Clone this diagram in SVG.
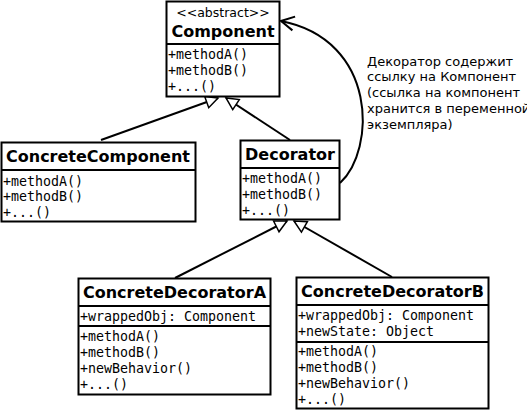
<svg xmlns="http://www.w3.org/2000/svg" width="527" height="410" viewBox="0 0 527 410">
<defs>
<style>
.box{fill:#fff;stroke:#000;stroke-width:2}
.sep{stroke:#000;stroke-width:2}
.title{font-family:"DejaVu Sans",sans-serif;font-weight:bold;font-size:16px;text-anchor:middle}
.mono{font-family:"DejaVu Sans Mono",monospace;font-size:13.3px}
.note{font-family:"DejaVu Sans",sans-serif;font-size:13px}
.stereo{font-family:"DejaVu Sans",sans-serif;font-size:12.5px;text-anchor:middle}
.conn{fill:none;stroke:#000;stroke-width:2}
</style>
<marker id="tri" markerUnits="userSpaceOnUse" markerWidth="14" markerHeight="14" refX="12" refY="6" orient="auto" overflow="visible">
<path d="M0,0 L12,6 L0,12 Z" fill="#fff" stroke="#000" stroke-width="1.5"/>
</marker>
<marker id="open" markerUnits="userSpaceOnUse" markerWidth="16" markerHeight="16" refX="13" refY="7" orient="auto" overflow="visible">
<path d="M0,0 L13,7 L0,14" fill="none" stroke="#000" stroke-width="2"/>
</marker>
</defs>
<rect width="527" height="410" fill="#fff"/>
<g id="connectors">
<line class="conn" x1="101" y1="140" x2="218" y2="98" marker-end="url(#tri)"/>
<line class="conn" x1="290" y1="140" x2="226" y2="98" marker-end="url(#tri)"/>
<line class="conn" x1="175" y1="278" x2="287" y2="221" marker-end="url(#tri)"/>
<line class="conn" x1="392" y1="277" x2="294" y2="221" marker-end="url(#tri)"/>
<path class="conn" d="M340,183 C376,150 378,40 281,21" marker-end="url(#open)"/>
</g>
<g id="Component">
<rect class="box" x="166.5" y="1.5" width="113" height="95"/>
<line class="sep" x1="166.5" y1="44" x2="279.5" y2="44"/>
<text class="stereo" x="223" y="17">&lt;&lt;abstract&gt;&gt;</text>
<text class="title" x="223" y="37">Component</text>
<text class="mono" x="168" y="59">+methodA()</text>
<text class="mono" x="168" y="75">+methodB()</text>
<text class="mono" x="168" y="91">+...()</text>
</g>
<g id="ConcreteComponent">
<rect class="box" x="1.5" y="142.5" width="194" height="79"/>
<line class="sep" x1="1.5" y1="170" x2="195.5" y2="170"/>
<text class="title" x="98" y="162">ConcreteComponent</text>
<text class="mono" x="3" y="186">+methodA()</text>
<text class="mono" x="3" y="201">+methodB()</text>
<text class="mono" x="3" y="217">+...()</text>
</g>
<g id="Decorator">
<rect class="box" x="240.5" y="140.5" width="99" height="79"/>
<line class="sep" x1="240.5" y1="168" x2="339.5" y2="168"/>
<text class="title" x="290" y="160">Decorator</text>
<text class="mono" x="242" y="183">+methodA()</text>
<text class="mono" x="242" y="199">+methodB()</text>
<text class="mono" x="242" y="215">+...()</text>
</g>
<g id="ConcreteDecoratorA">
<rect class="box" x="78.5" y="278.5" width="192" height="116"/>
<line class="sep" x1="78.5" y1="306" x2="270.5" y2="306"/>
<line class="sep" x1="78.5" y1="326" x2="270.5" y2="326"/>
<text class="title" x="174.5" y="298">ConcreteDecoratorA</text>
<text class="mono" x="80" y="321">+wrappedObj: Component</text>
<text class="mono" x="80" y="341">+methodA()</text>
<text class="mono" x="80" y="357">+methodB()</text>
<text class="mono" x="80" y="373">+newBehavior()</text>
<text class="mono" x="80" y="389">+...()</text>
</g>
<g id="ConcreteDecoratorB">
<rect class="box" x="296.5" y="277.5" width="192" height="131"/>
<line class="sep" x1="296.5" y1="305" x2="488.5" y2="305"/>
<line class="sep" x1="296.5" y1="342" x2="488.5" y2="342"/>
<text class="title" x="392.5" y="297">ConcreteDecoratorB</text>
<text class="mono" x="298" y="320">+wrappedObj: Component</text>
<text class="mono" x="298" y="336">+newState: Object</text>
<text class="mono" x="298" y="356">+methodA()</text>
<text class="mono" x="298" y="372">+methodB()</text>
<text class="mono" x="298" y="388">+newBehavior()</text>
<text class="mono" x="298" y="404">+...()</text>
</g>
<g id="note">
<text class="note" x="367" y="66">Декоратор содержит</text>
<text class="note" x="367" y="81">ссылку на Компонент</text>
<text class="note" x="367" y="97">(ссылка на компонент</text>
<text class="note" x="367" y="113">хранится в переменной</text>
<text class="note" x="367" y="129">экземпляра)</text>
</g>
</svg>
